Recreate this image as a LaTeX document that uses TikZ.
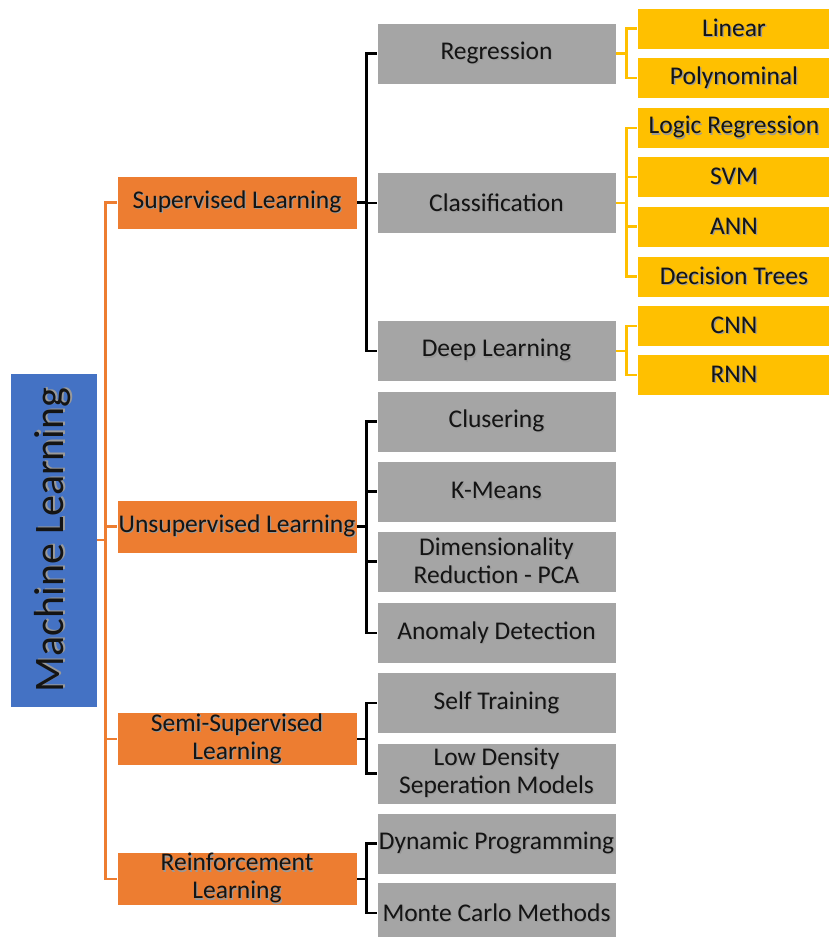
\documentclass[tikz,border=0pt]{standalone}
\usepackage{fontspec}
\setmainfont{Carlito}
\definecolor{mlblue}{HTML}{4472C4}
\definecolor{mlorange}{HTML}{ED7D31}
\definecolor{mlgray}{HTML}{A5A5A5}
\definecolor{mlyellow}{HTML}{FFC000}
\definecolor{mltext}{HTML}{141414}
% text with a soft drop shadow
\newcommand\shadowed[1]{\leavevmode\rlap{\hspace{1.3pt}\raisebox{-1.3pt}{\textcolor{black!40}{#1}}}#1}
\begin{document}
\begin{tikzpicture}[x=1pt,y=-1pt,
  box/.style={rectangle,draw=white,line width=0.8pt,inner sep=0pt,align=center,
    text=mltext,font=\fontsize{25.5}{28}\selectfont},
  rootbox/.style={box,fill=mlblue,minimum width=87,minimum height=334,
    font=\fontsize{42}{48}\selectfont},
  catbox/.style={box,fill=mlorange,minimum width=240,minimum height=53},
  subbox/.style={box,fill=mlgray,minimum width=239,minimum height=61},
  leafbox/.style={box,fill=mlyellow,minimum width=194,minimum height=41},
  orangeline/.style={draw=mlorange,line width=2.2pt},
  blackline/.style={draw=black,line width=2.6pt},
  yellowline/.style={draw=mlyellow,line width=2.2pt}]
\useasboundingbox (0,0) rectangle (829,937);

% root
\node[rootbox] (ml) at (53.5,540) {\rotatebox{90}{\shadowed{Machine Learning}}};

% learning categories
\node[catbox] (sup)  at (237,202.5) {\shadowed{Supervised Learning}};
\node[catbox] (uns)  at (237,526.5) {\shadowed{Unsupervised Learning}};
\node[catbox] (semi) at (237,739)   {\shadowed{Semi-Supervised}\\\shadowed{Learning}};
\node[catbox] (rein) at (237,879)   {\shadowed{Reinforcement}\\\shadowed{Learning}};

% methods
\node[subbox] (reg)  at (496.5,53.5)  {\shadowed{Regression}};
\node[subbox] (cls)  at (496.5,203)   {\shadowed{Classification}};
\node[subbox] (deep) at (496.5,351)   {\shadowed{Deep Learning}};
\node[subbox] (clu)  at (496.5,421.5) {\shadowed{Clusering}};
\node[subbox] (kme)  at (496.5,491.5) {\shadowed{K-Means}};
\node[subbox] (dim)  at (496.5,561.5) {\shadowed{Dimensionality}\\\shadowed{Reduction - PCA}};
\node[subbox] (ano)  at (496.5,633)   {\shadowed{Anomaly Detection}};
\node[subbox] (self) at (496.5,703)   {\shadowed{Self Training}};
\node[subbox] (low)  at (496.5,773.5) {\shadowed{Low Density}\\\shadowed{Seperation Models}};
\node[subbox] (dyn)  at (496.5,843.5) {\shadowed{Dynamic Programming}};
\node[subbox] (mc)   at (496.5,913)   {\shadowed{Monte Carlo Methods}};

% algorithms
\node[leafbox] (lin)   at (734,28.5)  {\shadowed{Linear}};
\node[leafbox] (poly)  at (734,78)    {\shadowed{Polynominal}};
\node[leafbox] (logic) at (734,128)   {\shadowed{Logic Regression}};
\node[leafbox] (svm)   at (734,177)   {\shadowed{SVM}};
\node[leafbox] (ann)   at (734,226.5) {\shadowed{ANN}};
\node[leafbox] (dec)   at (734,276.5) {\shadowed{Decision Trees}};
\node[leafbox] (cnn)   at (734,326)   {\shadowed{CNN}};
\node[leafbox] (rnn)   at (734,375)   {\shadowed{RNN}};

% root brackets
\foreach \c in {sup,uns,semi,rein}
  \draw[orangeline] (ml.east) -- ++(8,0) |- (\c.west);

% category brackets
\foreach \c in {reg,cls,deep}
  \draw[blackline] (sup.east) -- ++(9,0) |- (\c.west);
\foreach \c in {clu,kme,dim,ano}
  \draw[blackline] (uns.east) -- ++(9,0) |- (\c.west);
\foreach \c in {self,low}
  \draw[blackline] (semi.east) -- ++(9,0) |- (\c.west);
\foreach \c in {dyn,mc}
  \draw[blackline] (rein.east) -- ++(9,0) |- (\c.west);

% method brackets
\foreach \c in {lin,poly}
  \draw[yellowline] (reg.east) -- ++(10,0) |- (\c.west);
\foreach \c in {logic,svm,ann,dec}
  \draw[yellowline] (cls.east) -- ++(10,0) |- (\c.west);
\foreach \c in {cnn,rnn}
  \draw[yellowline] (deep.east) -- ++(10,0) |- (\c.west);
\end{tikzpicture}
\end{document}
